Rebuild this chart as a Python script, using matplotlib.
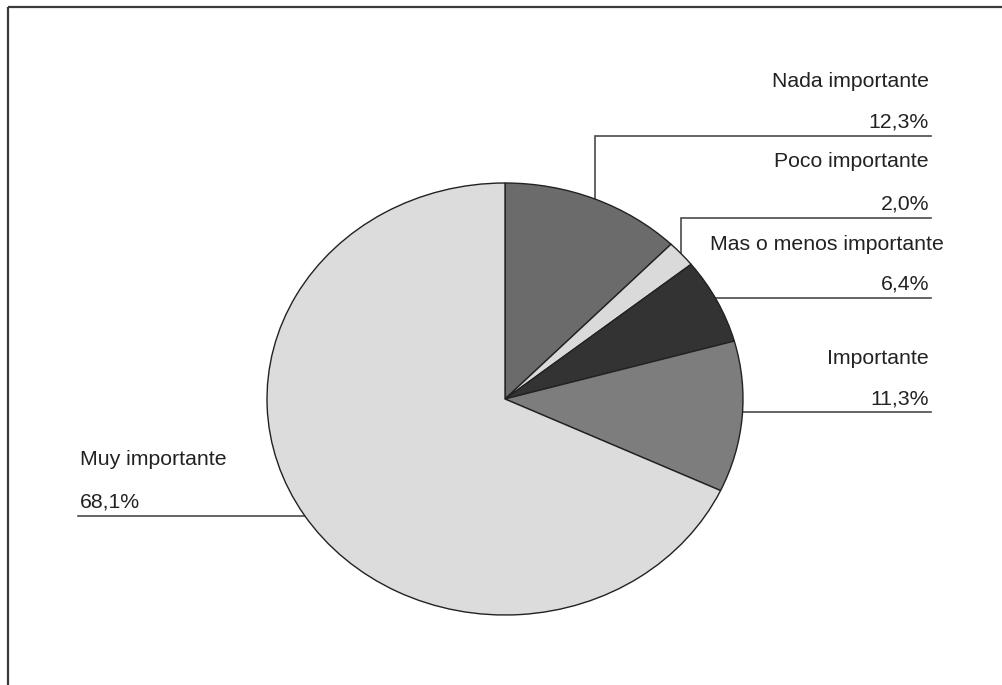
import matplotlib
matplotlib.use("Agg")
import matplotlib.pyplot as plt
import numpy as np

# Survey answers and their shares (%)
categories = ["Nada importante", "Poco importante", "Mas o menos importante",
              "Importante", "Muy importante"]
values = [12.3, 2.0, 6.4, 11.3, 68.1]
pct_labels = ["12,3%", "2,0%", "6,4%", "11,3%", "68,1%"]

colors = ["#6b6b6b", "#dadada", "#333333", "#7d7d7d", "#dcdcdc"]

W, H = 1002, 685
fig = plt.figure(figsize=(W / 100, H / 100), dpi=100)
fig.patch.set_facecolor("white")

# Overlay axes in pixel coordinates for frame, leaders and labels
ax_o = fig.add_axes([0, 0, 1, 1], zorder=0)
ax_o.set_xlim(0, W)
ax_o.set_ylim(H, 0)
ax_o.axis("off")

# Pie axes sized to the (slightly elliptical) pie footprint
cx, cy, rx, ry = 505, 399, 238, 216
ax_p = fig.add_axes([(cx - rx) / W, (H - cy - ry) / H, 2 * rx / W, 2 * ry / H],
                    zorder=1)
ax_p.patch.set_alpha(0)
wedges, _ = ax_p.pie(values, colors=colors, startangle=90, counterclock=False,
                     radius=1,
                     wedgeprops=dict(edgecolor="#222222", linewidth=1.0,
                                     clip_on=False))
ax_p.set_aspect("auto")
ax_p.set_xlim(-1, 1)
ax_p.set_ylim(-1, 1)
ax_p.axis("off")

# Outer frame: top and left rules
frame_kw = dict(color="#3a3a3a", lw=1.6, solid_capstyle="butt")
ax_o.plot([8.5, W], [7, 7], **frame_kw)
ax_o.plot([8.5, 8.5], [7, H], **frame_kw)

# Label layout: (baseline of name, baseline of pct, rule y, rule end x, side)
layout = [
    (87, 127, 136, 931, "right"),
    (167, 209, 218, 931, "right"),
    (250, 289, 298, 931, "right"),
    (364, 404, 412, 931, "right"),
    (465, 507, 516, 78, "left"),
]
name_x_right = {0: 929, 1: 929, 2: 944, 3: 929}

fig.canvas.draw()
px_from_disp = ax_o.transData.inverted()
pie_from_disp = ax_p.transData.inverted()
text_kw = dict(fontsize=15.3, family=["Liberation Sans", "DejaVu Sans"],
               color="#222222")

for i, (w, (yn, yp, yl, xe, side)) in enumerate(zip(wedges, layout)):
    theta = np.deg2rad((w.theta1 + w.theta2) / 2)
    disp = ax_p.transData.transform((np.cos(theta), np.sin(theta)))
    ax_x, ax_y = px_from_disp.transform(disp)
    if abs(ax_y - yl) < 10:
        # rule leaves the pie horizontally: start it where it meets the rim
        yd = pie_from_disp.transform(ax_o.transData.transform((ax_x, yl)))[1]
        xd = np.sign(np.cos(theta)) * np.sqrt(max(0.0, 1 - yd ** 2))
        sx = px_from_disp.transform(ax_p.transData.transform((xd, yd)))[0]
        ax_o.plot([sx, xe], [yl, yl], color="#4a4a4a", lw=1.2, zorder=0)
    else:
        ax_o.plot([ax_x, ax_x, xe], [ax_y, yl, yl], color="#4a4a4a", lw=1.2,
                  solid_joinstyle="miter", zorder=0)
    if side == "right":
        ax_o.text(name_x_right[i], yn, categories[i], ha="right",
                  va="baseline", **text_kw)
        ax_o.text(929, yp, pct_labels[i], ha="right", va="baseline", **text_kw)
    else:
        ax_o.text(80, yn, categories[i], ha="left", va="baseline", **text_kw)
        ax_o.text(80, yp, pct_labels[i], ha="left", va="baseline", **text_kw)

fig.savefig("out.png", dpi=100, facecolor="white")
